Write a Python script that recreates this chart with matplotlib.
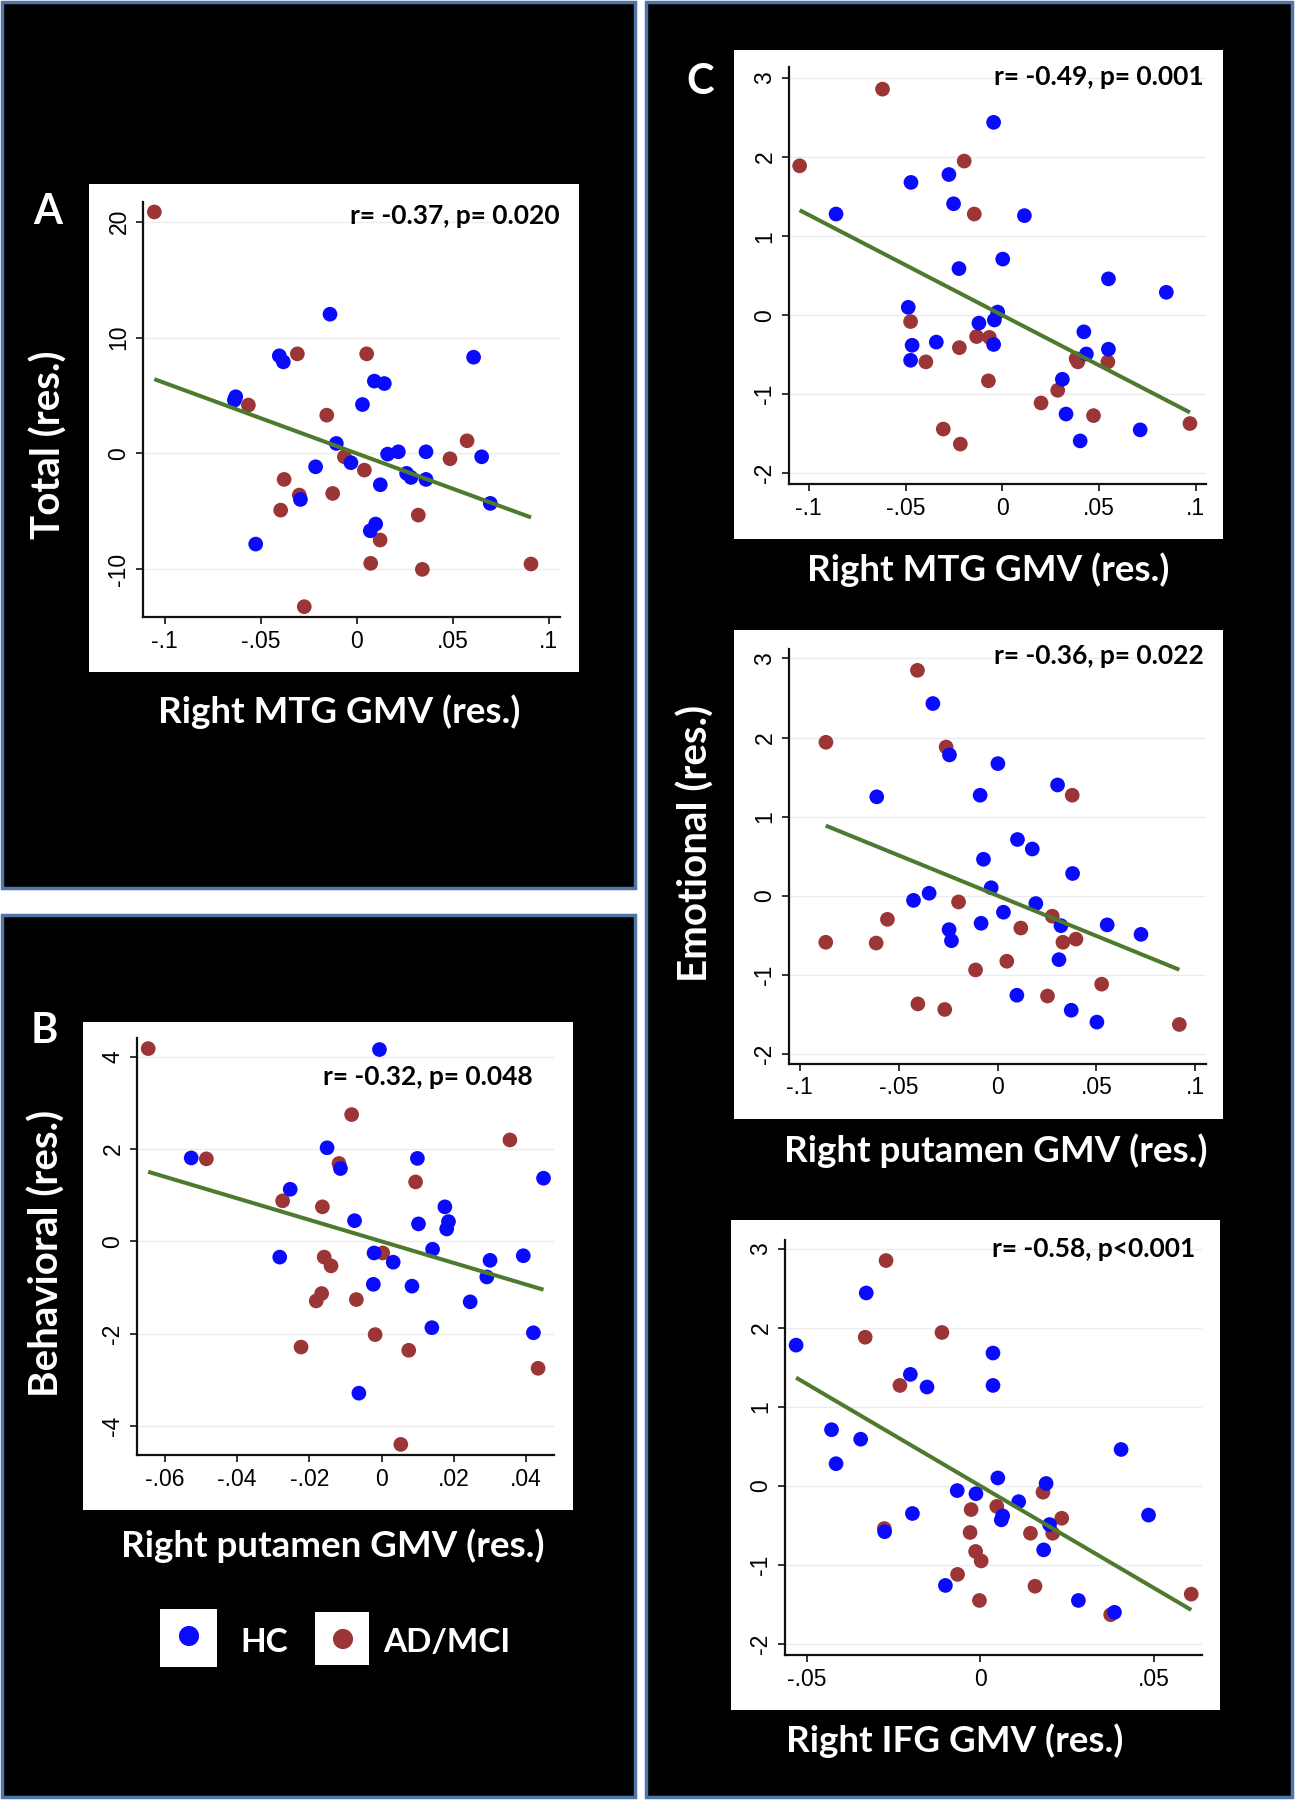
# -*- coding: utf-8 -*-
"""
plot.py

five residual scatter plots (HC vs AD/MCI) with linear fits
"""
import numpy as np
from matplotlib import pyplot as plt
from matplotlib.patches import Rectangle

# ---- data ----
# panel A : Total vs right MTG GMV
A_HC_X = [-0.0139, -0.0403, -0.0382, 0.0609, 0.0092, 0.0144, -0.0630, -0.0637, 0.0030, -0.0106,
          0.0161, 0.0217, 0.0361, -0.0030, -0.0214, 0.0651, 0.0260, 0.0283, 0.0361, 0.0123,
          -0.0293, 0.0696, 0.0099, 0.0071, -0.0526]
A_HC_Y = [12.01, 8.42, 7.90, 8.30, 6.24, 6.03, 4.89, 4.60, 4.22, 0.86,
          -0.06, 0.14, 0.14, -0.80, -1.15, -0.29, -1.72, -2.07, -2.24, -2.70,
          -3.97, -4.31, -6.09, -6.67, -7.82]
A_AD_X = [-0.1054, -0.0309, 0.0052, -0.0564, -0.0156, 0.0575, 0.0486, -0.0064, 0.0040, -0.0378,
          -0.0299, -0.0125, -0.0396, 0.0321, 0.0122, 0.0073, 0.0342, 0.0908, -0.0273]
A_AD_Y = [20.83, 8.59, 8.59, 4.17, 3.30, 1.09, -0.46, -0.29, -1.44, -2.24,
          -3.59, -3.45, -4.89, -5.32, -7.47, -9.48, -10.0, -9.54, -13.22]

# panel B : Behavioral vs right putamen GMV
B_HC_X = [-0.0006, -0.0527, -0.0151, 0.0099, -0.0114, 0.0448, -0.0253, 0.0175, -0.0075, 0.0102,
          0.0185, 0.0180, 0.0141, -0.0282, -0.0021, 0.0032, 0.0300, 0.0392, 0.0291, -0.0023,
          0.0084, 0.0245, 0.0139, 0.0420, -0.0063]
B_HC_Y = [4.16, 1.81, 2.03, 1.80, 1.58, 1.37, 1.13, 0.75, 0.45, 0.38,
          0.43, 0.27, -0.17, -0.34, -0.25, -0.45, -0.41, -0.31, -0.77, -0.93,
          -0.97, -1.31, -1.87, -1.98, -3.29]
B_AD_X = [-0.0646, -0.0485, -0.0083, 0.0355, -0.0118, 0.0094, -0.0274, -0.0164, 0.0003, -0.0159,
          -0.0140, -0.0166, -0.0181, -0.0070, -0.0018, -0.0223, 0.0075, 0.0433, 0.0053]
B_AD_Y = [4.18, 1.79, 2.75, 2.20, 1.69, 1.29, 0.88, 0.75, -0.25, -0.34,
          -0.53, -1.13, -1.29, -1.26, -2.02, -2.29, -2.36, -2.75, -4.40]

# panel C, top : Emotional vs right MTG GMV
C1_HC_X = [-0.0045, -0.0472, -0.0276, -0.0252, -0.0859, 0.0114, 0.0002, -0.0224, 0.0548, 0.0847,
           -0.0486, -0.0024, -0.0041, -0.0121, 0.0421, -0.0466, -0.0341, -0.0045, 0.0434, 0.0548,
           -0.0474, 0.0310, 0.0329, 0.0402, 0.0712]
C1_HC_Y = [2.44, 1.68, 1.78, 1.41, 1.28, 1.26, 0.71, 0.59, 0.46, 0.29,
           0.10, 0.04, -0.06, -0.10, -0.21, -0.38, -0.34, -0.37, -0.49, -0.43,
           -0.57, -0.81, -1.25, -1.59, -1.45]
C1_AD_X = [-0.0619, -0.1047, -0.0197, -0.0145, -0.0474, -0.0133, -0.0067, -0.0222, -0.0395, -0.0072,
           0.0381, 0.0390, 0.0545, 0.0286, 0.0200, 0.0471, -0.0305, -0.0217, 0.0969]
C1_AD_Y = [2.86, 1.89, 1.95, 1.28, -0.08, -0.27, -0.28, -0.41, -0.59, -0.83,
           -0.55, -0.59, -0.59, -0.95, -1.11, -1.27, -1.44, -1.63, -1.37]

# panel C, middle : Emotional vs right putamen GMV
C2_HC_X = [-0.0327, -0.0243, 0.0002, 0.0304, -0.0611, -0.0088, 0.0101, 0.0176, -0.0071, 0.0380,
           -0.0032, -0.0346, -0.0425, 0.0194, 0.0030, 0.0321, -0.0245, -0.0233, -0.0083, 0.0555,
           0.0726, 0.0311, 0.0098, 0.0373, 0.0503]
C2_HC_Y = [2.43, 1.78, 1.67, 1.40, 1.25, 1.27, 0.71, 0.59, 0.46, 0.28,
           0.10, 0.03, -0.06, -0.10, -0.21, -0.38, -0.43, -0.57, -0.35, -0.37,
           -0.49, -0.81, -1.26, -1.45, -1.60]
C2_AD_X = [-0.0405, -0.0868, -0.0260, 0.0378, -0.0197, -0.0557, -0.0869, -0.0614, 0.0277, 0.0118,
           0.0331, 0.0397, 0.0047, -0.0111, 0.0527, 0.0253, -0.0403, -0.0267, 0.0920]
C2_AD_Y = [2.85, 1.94, 1.88, 1.27, -0.08, -0.30, -0.59, -0.60, -0.26, -0.41,
           -0.59, -0.55, -0.83, -0.94, -1.12, -1.27, -1.37, -1.44, -1.63]

# panel C, bottom : Emotional vs right IFG GMV
C3_HC_X = [-0.0328, -0.0530, 0.0037, -0.0201, -0.0153, 0.0037, -0.0428, -0.0344, -0.0415, 0.0406,
           0.0051, 0.0190, -0.0066, -0.0012, 0.0111, 0.0065, 0.0061, -0.0195, -0.0275, 0.0200,
           0.0485, 0.0183, -0.0100, 0.0283, 0.0387]
C3_HC_Y = [2.44, 1.78, 1.68, 1.41, 1.25, 1.27, 0.71, 0.59, 0.28, 0.46,
           0.10, 0.03, -0.06, -0.10, -0.20, -0.38, -0.43, -0.35, -0.58, -0.49,
           -0.37, -0.81, -1.26, -1.45, -1.60]
C3_AD_X = [-0.0271, -0.0331, -0.0110, -0.0231, -0.0276, 0.0181, -0.0026, 0.0048, 0.0235, -0.0029,
           0.0145, 0.0209, -0.0013, 0.0003, -0.0065, 0.0158, -0.0002, 0.0376, 0.0608]
C3_AD_Y = [2.85, 1.88, 1.94, 1.27, -0.54, -0.08, -0.30, -0.26, -0.41, -0.59,
           -0.60, -0.60, -0.83, -0.95, -1.12, -1.27, -1.45, -1.63, -1.37]

# linear fits (intercept, slope)
FIT_A = (0.0, -60.8)
FIT_B = (0.0, -23.37)
FIT_C1 = (0.0, -12.69)
FIT_C2 = (0.0, -10.19)
FIT_C3 = (0.0, -25.82)

STAT_A = 'r= -0.37, p= 0.020'
STAT_B = 'r= -0.32, p= 0.048'
STAT_C1 = 'r= -0.49, p= 0.001'
STAT_C2 = 'r= -0.36, p= 0.022'
STAT_C3 = 'r= -0.58, p<0.001'

XT_MTG = [-0.1, -0.05, 0, 0.05, 0.1]
XT_MTG_LAB = ['-.1', '-.05', '0', '.05', '.1']
XT_PUT = [-0.06, -0.04, -0.02, 0, 0.02, 0.04]
XT_PUT_LAB = ['-.06', '-.04', '-.02', '0', '.02', '.04']
XT_IFG = [-0.05, 0, 0.05]
XT_IFG_LAB = ['-.05', '0', '.05']
YT_TOTAL = [-10, 0, 10, 20]
YT_BEH = [-4, -2, 0, 2, 4]
YT_EMO = [-2, -1, 0, 1, 2, 3]

# ---- styling ----
W, H = 1295, 1800
HC_COL = '#0a0aff'
AD_COL = '#9c3535'
FIT_COL = '#4d7a2e'
BORDER = '#4f76a6'
LAB_FONT = ['Lato', 'DejaVu Sans']
TICK_FONT = ['Liberation Sans', 'DejaVu Sans']

fig = plt.figure(figsize=(W / 100, H / 100), dpi=100, facecolor='white')


def box(l, t, r, b, **kw):
    fig.add_artist(Rectangle((l / W, 1 - b / H), (r - l) / W, (b - t) / H,
                             transform=fig.transFigure, **kw))


def ftext(x, y, s, **kw):
    fig.text(x / W, 1 - y / H, s, **kw)


def panel(spine_box, xlim, ylim, xt, xtl, yt, hc_x, hc_y, ad_x, ad_y, fit, stat, stat_xy):
    l, t, r, b = spine_box
    ax = fig.add_axes([l / W, 1 - b / H, (r - l) / W, (b - t) / H])
    ax.set_facecolor('none')
    for side in ['top', 'right']:
        ax.spines[side].set_visible(False)
    for side in ['left', 'bottom']:
        ax.spines[side].set_linewidth(1.6)
        ax.spines[side].set_color('#111111')
    ax.set_xlim(*xlim)
    ax.set_ylim(*ylim)
    ax.set_xticks(xt)
    ax.set_xticklabels(xtl, fontfamily=TICK_FONT, fontsize=16.5)
    ax.set_yticks(yt)
    ax.set_yticklabels([str(v) for v in yt], fontfamily=TICK_FONT, fontsize=16.5,
                       rotation=90, va='center')
    ax.tick_params(direction='out', length=5, width=1.2, pad=4, color='#111111')
    ax.yaxis.grid(True, color='#ececec', lw=1.0)
    ax.set_axisbelow(True)

    ax.scatter(ad_x, ad_y, s=112, color=AD_COL, edgecolors='none', zorder=3, clip_on=False)
    ax.scatter(hc_x, hc_y, s=112, color=HC_COL, edgecolors='none', zorder=4, clip_on=False)

    allx = np.concatenate([hc_x, ad_x])
    lx = np.array([allx.min(), allx.max()])
    ax.plot(lx, fit[0] + fit[1] * lx, color=FIT_COL, lw=2.9, zorder=5,
            solid_capstyle='butt')

    ftext(stat_xy[0], stat_xy[1], stat, ha='right', va='center', fontsize=19,
          fontweight='bold', family=LAB_FONT, color='black')
    return ax


# black panels with blue border
box(2, 2, 635, 888, facecolor='black', edgecolor=BORDER, lw=2.5, zorder=-3)
box(2, 915, 635, 1797, facecolor='black', edgecolor=BORDER, lw=2.5, zorder=-3)
box(646, 2, 1292, 1797, facecolor='black', edgecolor=BORDER, lw=2.5, zorder=-3)

# white plot regions
box(89, 184, 579, 672, facecolor='white', edgecolor='none', zorder=-2)
box(83, 1022, 573, 1510, facecolor='white', edgecolor='none', zorder=-2)
box(734, 50, 1223, 539, facecolor='white', edgecolor='none', zorder=-2)
box(734, 630, 1223, 1119, facecolor='white', edgecolor='none', zorder=-2)
box(731, 1220, 1220, 1710, facecolor='white', edgecolor='none', zorder=-2)

panel((143, 202, 560, 617), (-0.1113, 0.1059), (-14.11, 21.69), XT_MTG, XT_MTG_LAB, YT_TOTAL,
      A_HC_X, A_HC_Y, A_AD_X, A_AD_Y, FIT_A, STAT_A, (560, 216))
panel((137, 1038, 554, 1455), (-0.0677, 0.0477), (-4.63, 4.41), XT_PUT, XT_PUT_LAB, YT_BEH,
      B_HC_X, B_HC_Y, B_AD_X, B_AD_Y, FIT_B, STAT_B, (533, 1077))
panel((789, 67, 1206, 484), (-0.1102, 0.1052), (-2.135, 3.14), XT_MTG, XT_MTG_LAB, YT_EMO,
      C1_HC_X, C1_HC_Y, C1_AD_X, C1_AD_Y, FIT_C1, STAT_C1, (1204, 77))
panel((789, 649, 1206, 1064), (-0.1055, 0.1055), (-2.13, 3.12), XT_MTG, XT_MTG_LAB, YT_EMO,
      C2_HC_X, C2_HC_Y, C2_AD_X, C2_AD_Y, FIT_C2, STAT_C2, (1204, 656))
panel((785, 1240, 1202, 1655), (-0.0562, 0.0639), (-2.14, 3.11), XT_IFG, XT_IFG_LAB, YT_EMO,
      C3_HC_X, C3_HC_Y, C3_AD_X, C3_AD_Y, FIT_C3, STAT_C3, (1195, 1249))

# white labels on black
lab = dict(color='white', fontweight='bold', family=LAB_FONT, ha='center', va='center')
ftext(48, 212, 'A', fontsize=30, **lab)
ftext(44, 1031, 'B', fontsize=30, **lab)
ftext(700, 82, 'C', fontsize=30, **lab)

ftext(49, 445, 'Total (res.)', fontsize=29, rotation=90, **lab)
ftext(47, 1253, 'Behavioral (res.)', fontsize=29, rotation=90, **lab)
ftext(696, 843, 'Emotional (res.)', fontsize=29, rotation=90, **lab)

ftext(339, 712, 'Right MTG GMV (res.)', fontsize=26.5, **lab)
ftext(333, 1546, 'Right putamen GMV (res.)', fontsize=26.5, **lab)
ftext(988, 570, 'Right MTG GMV (res.)', fontsize=26.5, **lab)
ftext(996, 1151, 'Right putamen GMV (res.)', fontsize=26.5, **lab)
ftext(955, 1741, 'Right IFG GMV (res.)', fontsize=26.5, **lab)

# legend
box(160, 1609, 217, 1667, facecolor='white', edgecolor='none', zorder=-1)
box(315, 1612, 369, 1665, facecolor='white', edgecolor='none', zorder=-1)
leg = fig.add_axes([0, 0, 1, 1], facecolor='none')
leg.set_xlim(0, W)
leg.set_ylim(H, 0)
leg.axis('off')
leg.scatter([189], [1636], s=210, color=HC_COL, edgecolors='none')
leg.scatter([343], [1639], s=210, color=AD_COL, edgecolors='none')
ftext(240, 1643, 'HC', fontsize=24, color='white', fontweight='bold', family=LAB_FONT,
      ha='left', va='center')
ftext(383, 1642, 'AD/MCI', fontsize=24, color='white', fontweight='bold', family=LAB_FONT,
      ha='left', va='center')

fig.savefig('out.png', dpi=100, facecolor='white')
